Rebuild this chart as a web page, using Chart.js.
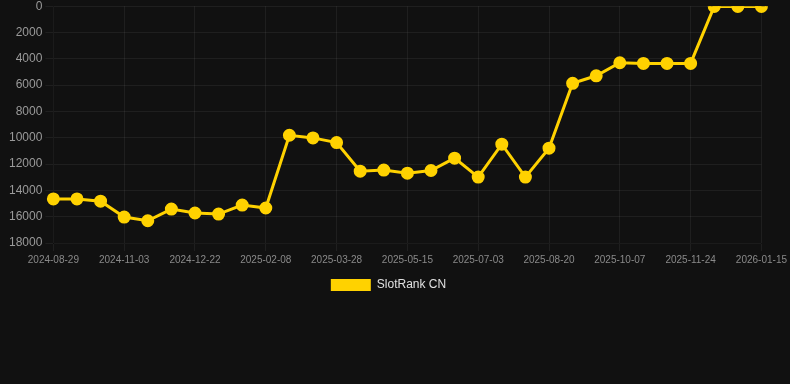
<!DOCTYPE html>
<html>
<head>
<meta charset="utf-8">
<script src="https://cdn.jsdelivr.net/npm/chart.js@4"></script>
<style>
  html, body { margin: 0; padding: 0; background: #111111; overflow: hidden; }
  #wrap { width: 790px; height: 305px; position: relative; margin-top: -4px; }
</style>
</head>
<body>
<div id="wrap"><canvas id="chart-area"></canvas></div>
<script>
var labels = [
  "2024-08-29", "2024-09-20", "2024-10-12", "2024-11-03", "2024-11-19", "2024-12-06",
  "2024-12-22", "2025-01-07", "2025-01-23", "2025-02-08", "2025-02-24", "2025-03-12",
  "2025-03-28", "2025-04-13", "2025-04-29", "2025-05-15", "2025-05-31", "2025-06-17",
  "2025-07-03", "2025-07-19", "2025-08-04", "2025-08-20", "2025-09-05", "2025-09-21",
  "2025-10-07", "2025-10-23", "2025-11-08", "2025-11-24", "2025-12-11", "2025-12-28",
  "2026-01-15"
];
var rankValues = [
  14650, 14650, 14820, 16030, 16310, 15420,
  15720, 15800, 15120, 15340, 9810, 10010,
  10370, 12540, 12460, 12690, 12490, 11550,
  12990, 10490, 12990, 10790, 5860, 5290,
  4300, 4350, 4350, 4350, 20, 20,
  20
];
var yTicks = { min: 0, max: 18000, step: 2000 };

var gold = '#ffd200';
var fontFamily = 'Arial, "Liberation Sans", sans-serif';

var config = {
  type: 'line',
  data: {
    labels: labels,
    datasets: [{
      label: 'SlotRank CN',
      data: rankValues,
      borderColor: gold,
      backgroundColor: gold,
      borderWidth: 3,
      pointRadius: 5,
      pointHoverRadius: 6,
      tension: 0
    }]
  },
  options: {
    responsive: true,
    maintainAspectRatio: false,
    animation: false,
    layout: { padding: { left: 6, right: 19 } },
    plugins: {
      legend: {
        position: 'bottom',
        labels: {
          color: '#e0e0e0',
          font: { family: fontFamily, size: 12 },
          boxWidth: 40,
          boxHeight: 12,
          // plain filled box, no outline
          generateLabels: function(chart) {
            var items = Chart.defaults.plugins.legend.labels.generateLabels(chart);
            items.forEach(function(it) { it.lineWidth = 0; });
            return items;
          }
        }
      },
      tooltip: { enabled: false }
    },
    scales: {
      x: {
        grid: { color: 'rgba(255,255,255,0.06)' },
        ticks: {
          color: '#8a8a8a',
          font: { family: fontFamily, size: 10 },
          maxRotation: 0,
          autoSkip: true,
          callback: function(val, i) { return i % 3 === 0 ? labels[i] : null; }
        }
      },
      y: {
        reverse: true,
        min: yTicks.min,
        max: yTicks.max,
        grid: { color: 'rgba(255,255,255,0.06)' },
        ticks: {
          stepSize: yTicks.step,
          color: '#9a9a9a',
          font: { family: fontFamily, size: 12 },
          callback: function(v) { return String(v); }
        }
      }
    }
  }
};

window.onload = function() {
  var ctx = document.getElementById('chart-area');
  window.myLine = new Chart(ctx, config);
};
</script>
</body>
</html>
